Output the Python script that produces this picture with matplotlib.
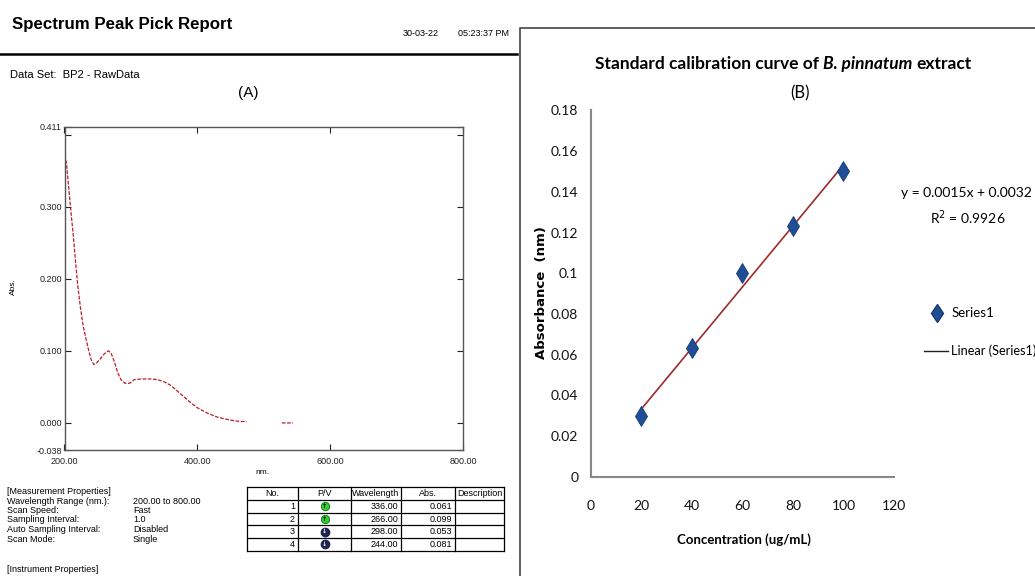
import matplotlib
matplotlib.use("Agg")
import matplotlib.pyplot as plt
import numpy as np

W, H = 1035, 576
ARIAL = ["Liberation Sans", "DejaVu Sans"]
CALIB = ["Lato", "Liberation Sans", "DejaVu Sans"]

# spectrum (A)
wavelength = [200, 203, 206, 210, 213, 217, 220, 224, 228, 232, 236, 240, 244,
              248, 254, 260, 266, 270, 275, 280, 285, 291, 298, 305, 315, 330,
              340, 350, 360, 370, 380, 390, 400, 414, 430, 444, 455, 464, 474,
              500, 527, 544]
absorbance = [0.372, 0.360, 0.330, 0.290, 0.262, 0.220, 0.190, 0.160, 0.135,
              0.118, 0.102, 0.088, 0.081, 0.083, 0.089, 0.096, 0.100, 0.097,
              0.085, 0.070, 0.060, 0.055, 0.055, 0.060, 0.061, 0.061, 0.060,
              0.057, 0.052, 0.044, 0.036, 0.028, 0.021, 0.014, 0.008, 0.005,
              0.003, 0.002, 0.002, np.nan, 0.000, 0.000]

# peak table
peak_no = ["1", "2", "3", "4"]
peak_type = ["P", "P", "V", "V"]
peak_wl = ["336.00", "266.00", "298.00", "244.00"]
peak_abs = ["0.061", "0.099", "0.053", "0.081"]
table_head = ["No.", "P/V", "Wavelength", "Abs.", "Description"]

meas_keys = ["Wavelength Range (nm.):", "Scan Speed:", "Sampling Interval:",
             "Auto Sampling Interval:", "Scan Mode:"]
meas_vals = ["200.00 to 800.00", "Fast", "1.0", "Disabled", "Single"]

# calibration (B)
conc = [20, 40, 60, 80, 100]
absb = [0.030, 0.063, 0.100, 0.123, 0.150]


def box(l, t, r, b):
    return [l / W, 1 - b / H, (r - l) / W, (b - t) / H]


fig = plt.figure(figsize=(W / 100, H / 100), dpi=100)
fig.patch.set_facecolor("white")

# background canvas in pixel coordinates
bg = fig.add_axes([0, 0, 1, 1])
bg.set_xlim(0, W)
bg.set_ylim(H, 0)
bg.axis("off")

# ---------- left: report ----------
bg.text(12, 25, "Spectrum Peak Pick Report", family=ARIAL, fontsize=12.2,
        fontweight="bold", va="center")
bg.text(403, 33, "30-03-22", family=ARIAL, fontsize=6.5, va="center")
bg.text(458, 33, "05:23:37 PM", family=ARIAL, fontsize=6.5, va="center")
bg.plot([0, 517], [54, 54], color="black", lw=1.8)
bg.text(10, 75, "Data Set:  BP2 - RawData", family=ARIAL, fontsize=8, va="center")
bg.text(248, 93, "(A)", family=ARIAL, fontsize=11, ha="center", va="center")

ax = fig.add_axes(box(64.5, 126.7, 463.3, 450.3))
ax.plot(wavelength, absorbance, color="#b8202a", lw=0.9,
        linestyle=(0, (3, 1.2)))
ax.set_xlim(200, 800)
ax.set_ylim(-0.038, 0.411)
ax.set_xticks([200, 400, 600, 800])
ax.set_xticklabels(["200.00", "400.00", "600.00", "800.00"])
ax.set_yticks([-0.038, 0, 0.1, 0.2, 0.3, 0.4, 0.411])
ax.set_yticklabels(["-0.038", "0.000", "0.100", "0.200", "0.300", "", "0.411"])
ax.tick_params(direction="in", length=4, width=0.8, top=True, right=True,
               labelsize=6.5, pad=2, colors="#222222")
ax.tick_params(axis="x", pad=5)
for lab in ax.get_xticklabels() + ax.get_yticklabels():
    lab.set_family(ARIAL)
for s in ax.spines.values():
    s.set_color("#555555")
    s.set_linewidth(1)
bg.text(13, 287, "Abs.", family=ARIAL, fontsize=6, rotation=90,
        ha="center", va="center")
bg.text(262, 472, "nm.", family=ARIAL, fontsize=6, ha="center", va="center")

# measurement properties
small = dict(family=ARIAL, fontsize=6.5, va="center")
bg.text(7, 491, "[Measurement Properties]", **small)
for i, (k, v) in enumerate(zip(meas_keys, meas_vals)):
    y = 501 + i * 9.5
    bg.text(7, y, k, **small)
    bg.text(133, y, v, **small)
bg.text(7, 570, "[Instrument Properties]", **small)

# peak table
cols = [247, 298, 351, 401, 455, 504]
rows = [487, 500, 512.7, 525.4, 538.1, 550.8]
for x in cols:
    bg.plot([x, x], [rows[0], rows[-1]], color="black", lw=0.9)
for y in rows:
    bg.plot([cols[0], cols[-1]], [y, y], color="black", lw=0.9)
for j, h in enumerate(table_head):
    bg.text((cols[j] + cols[j + 1]) / 2, (rows[0] + rows[1]) / 2, h,
            ha="center", **small)
for i in range(len(peak_no)):
    yc = (rows[i + 1] + rows[i + 2]) / 2
    bg.text(cols[1] - 3, yc, peak_no[i], ha="right", **small)
    bg.text(cols[3] - 3, yc, peak_wl[i], ha="right", **small)
    bg.text(cols[4] - 3, yc, peak_abs[i], ha="right", **small)
    xc = (cols[1] + cols[2]) / 2
    if peak_type[i] == "P":
        bg.plot(xc, yc, "o", ms=6, color="#2fcf2f", mec="#116611", mew=0.6)
        bg.text(xc, yc, "↑", fontsize=4.5, ha="center", va="center",
                color="black", fontweight="bold")
    else:
        bg.plot(xc, yc, "o", ms=6, color="#1c2550", mec="#1c2550")
        bg.text(xc, yc, "↓", fontsize=4.5, ha="center", va="center",
                color="white", fontweight="bold")

# ---------- right: calibration ----------
bg.plot([520, 520, W], [H, 28, 28], color="#444444", lw=1.2)

bx = fig.add_axes(box(590.7, 110.4, 894, 476.7))
slope, icpt = np.polyfit(conc, absb, 1)
xfit = np.array([min(conc), max(conc)])
bx.plot(xfit, slope * xfit + icpt, color="#9e2a2b", lw=1.2, zorder=2)
bx.plot(conc, absb, linestyle="none", marker="d", ms=10.5, color="#1f4e96",
        mec="#163a72", mew=0.6, zorder=3)
bx.set_xlim(0, 120)
bx.set_ylim(0, 0.18)
bx.set_xticks(range(0, 121, 20))
bx.set_yticks(np.arange(0, 0.181, 0.02))
bx.set_yticklabels(["0", "0.02", "0.04", "0.06", "0.08", "0.1", "0.12",
                    "0.14", "0.16", "0.18"])
bx.tick_params(length=0, labelsize=10, colors="#111111")
bx.tick_params(axis="y", pad=9)
bx.tick_params(axis="x", pad=17)
for lab in bx.get_xticklabels() + bx.get_yticklabels():
    lab.set_family(CALIB)
for side in ["top", "right"]:
    bx.spines[side].set_visible(False)
for side in ["left", "bottom"]:
    bx.spines[side].set_color("#888888")
    bx.spines[side].set_linewidth(1.5)
bx.patch.set_alpha(0)

bg.text(744, 540, "Concentration (ug/mL)", family=CALIB, fontsize=9.5,
        fontweight="bold", ha="center", va="center")
bg.text(542, 293, "Absorbance  (nm)", family=["DejaVu Sans"], fontsize=9.5,
        fontweight="bold", rotation=90, ha="center", va="center")
bg.text(800, 93, "(B)", family=CALIB, fontsize=12, ha="center", va="center")

bg.text(966, 193, "y = %.4fx + %.4f" % (slope, icpt), family=CALIB,
        fontsize=10, ha="center", va="center")
r2 = np.corrcoef(conc, absb)[0, 1] ** 2
bg.text(968, 218, "R$^2$ = %.4f" % r2, family=CALIB, fontsize=10,
        ha="center", va="center")

# legend
bg.plot(937, 313, marker="d", ms=9.5, color="#1f4e96", mec="#163a72")
bg.text(952, 313, "Series1", family=CALIB, fontsize=9.5, va="center")
bg.plot([924, 948], [351, 351], color="#222222", lw=1)
bg.text(951, 351, "Linear (Series1)", family=CALIB, fontsize=9.2, va="center")

# title with italic species name, centred over the plot
pieces = [("Standard calibration curve of", "normal"),
          ("B. pinnatum", "italic"), ("extract", "normal")]
gap = 4
fig.canvas.draw()
rend = fig.canvas.get_renderer()
texts = [bg.text(0, 64, p, family=CALIB, fontsize=12.5, fontweight="bold",
                 fontstyle=st, va="center") for p, st in pieces]
widths = [t.get_window_extent(rend).width for t in texts]
x0 = 783 - (sum(widths) + gap * (len(widths) - 1)) / 2
for t, w in zip(texts, widths):
    t.set_x(x0)
    x0 += w + gap

fig.savefig("out.png", dpi=100)
